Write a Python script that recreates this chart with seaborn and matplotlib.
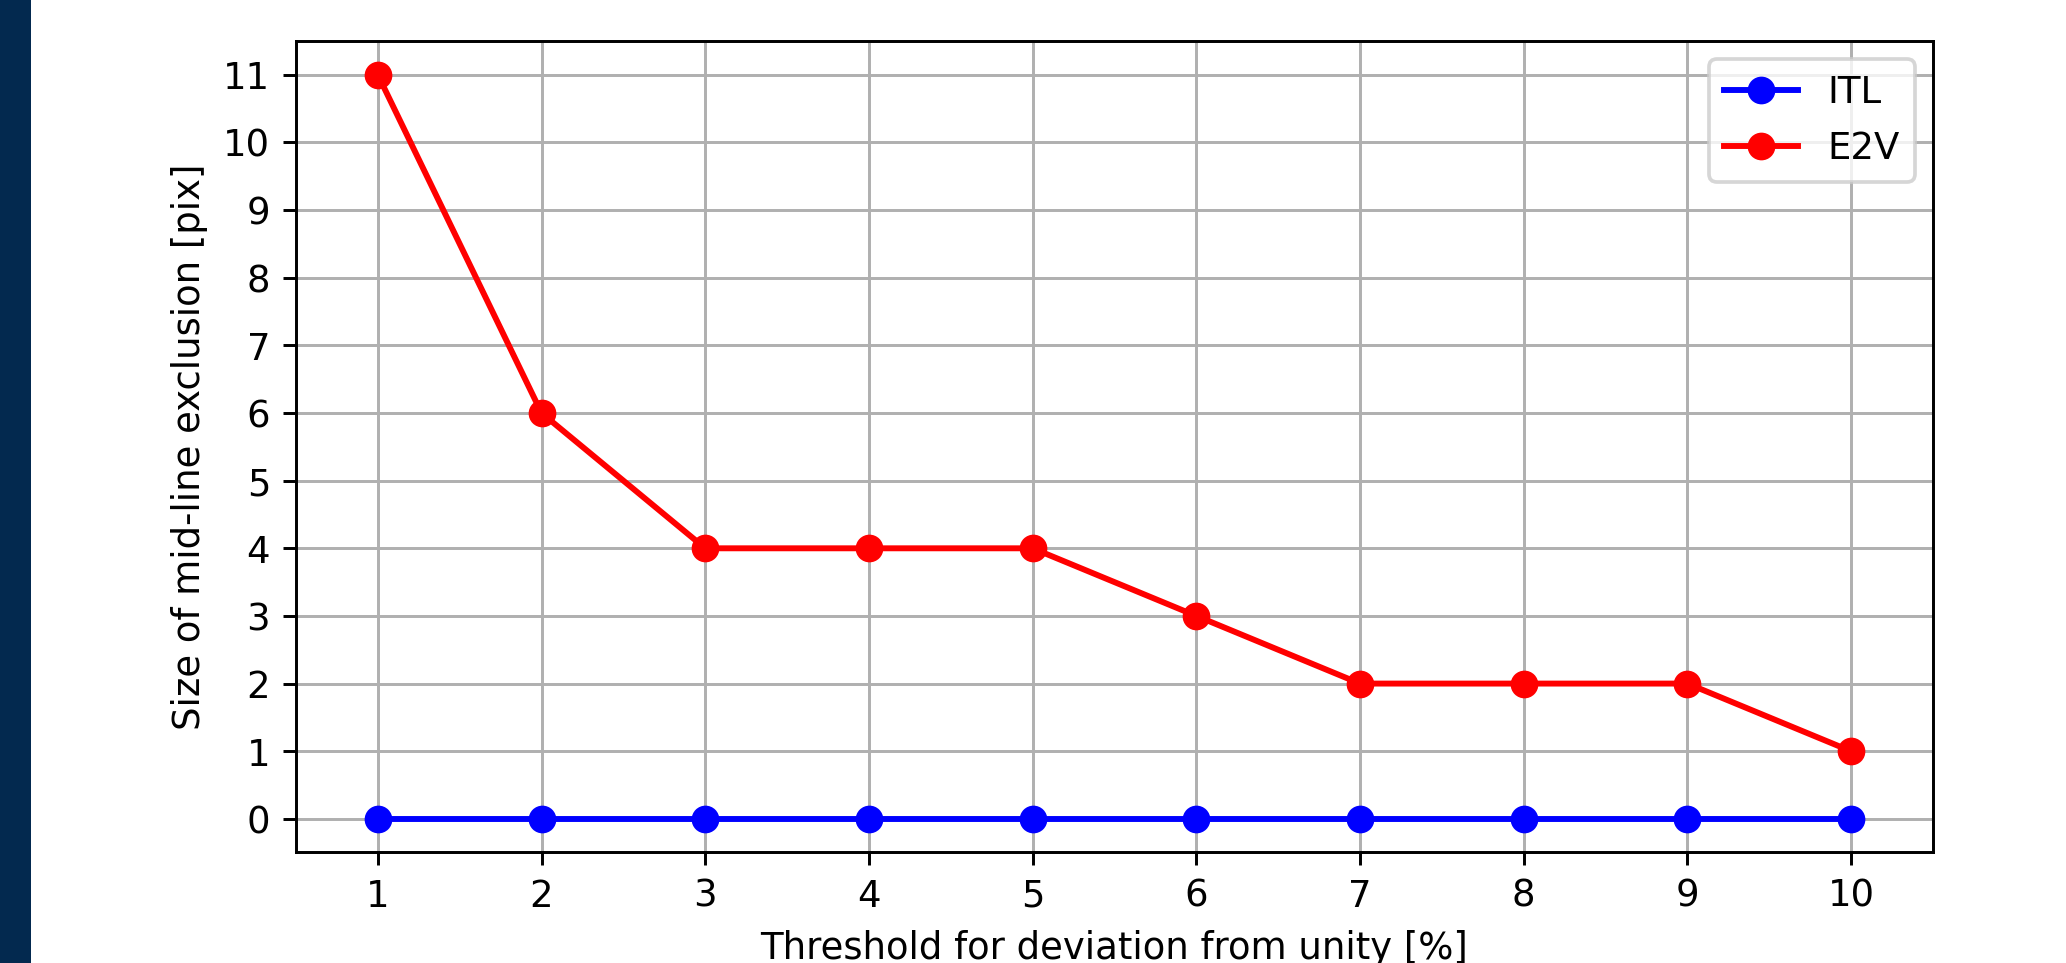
import matplotlib
matplotlib.use("Agg")
import matplotlib.pyplot as plt
import seaborn as sns
import pandas as pd
from matplotlib.patches import Rectangle

thresholds = [1, 2, 3, 4, 5, 6, 7, 8, 9, 10]
itl_values = [0, 0, 0, 0, 0, 0, 0, 0, 0, 0]
e2v_values = [11, 6, 4, 4, 4, 3, 2, 2, 2, 1]
series_names = ["ITL", "E2V"]
series_colors = ["blue", "red"]
yticks = list(range(0, 12))

plt.rcParams.update(matplotlib.rcParamsDefault)
plt.rcParams['font.family'] = ['DejaVu Sans']

df = pd.DataFrame({
    "threshold": thresholds * 2,
    "size": itl_values + e2v_values,
    "sensor": [series_names[0]] * len(thresholds) + [series_names[1]] * len(thresholds),
})

fig = plt.figure(figsize=(2066 / 266, 963 / 266), dpi=266)
ax = fig.add_axes([296 / 2066, 1 - 852 / 963, (1933 - 296) / 2066, (852 - 41) / 963])

for name, color in zip(series_names, series_colors):
    sub = df[df["sensor"] == name]
    sns.lineplot(data=sub, x="threshold", y="size", color=color, marker="o",
                 markersize=6.5, markeredgecolor=color, markeredgewidth=1,
                 linewidth=1.6, label=name, ax=ax)

ax.set_xticks(thresholds)
ax.set_yticks(yticks)
ax.set_xlim(0.5, 10.5)
ax.set_ylim(-0.49, 11.5)
ax.grid(True, color="#b0b0b0", linewidth=0.8)
ax.set_axisbelow(True)
ax.set_xlabel("Threshold for deviation from unity [%]")
ax.set_ylabel("Size of mid-line exclusion [pix]")
ax.legend(loc="upper right")

fig.patches.append(Rectangle((0, 0), 31 / 2066, 1, transform=fig.transFigure,
                             facecolor="#03294f", edgecolor="none", zorder=-1))

fig.savefig("out.png", dpi=266)
